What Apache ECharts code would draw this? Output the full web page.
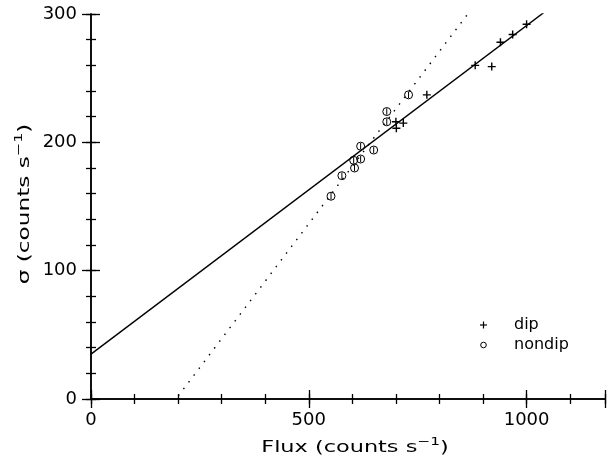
<!DOCTYPE html>
<html>
<head>
<meta charset="utf-8">
<script src="https://cdn.jsdelivr.net/npm/echarts@6/dist/echarts.min.js"></script>
<style>html,body{margin:0;padding:0;background:#fff}#c{width:608px;height:464px}</style>
</head>
<body>
<div id="c"></div>
<script>
// ---- data ----
var dipFlux   = [700, 701, 717, 771, 882, 920, 940, 968, 1000];
var dipSigma  = [216, 211, 215, 237, 260, 259, 278, 284, 292];
var nondipFlux  = [551, 576, 603, 605, 619, 619, 649, 679, 679, 729];
var nondipSigma = [158, 174, 186, 180, 187, 197, 194, 216, 224, 237];
// fitted lines: [intercept, slope]
var solidFit  = [35, 0.256];
var dottedFit = [-87.3, 0.4478];
var xTicks = [0, 500, 1000];
var yTicks = [0, 100, 200, 300];
var xRange = [0, 1180];
var yRange = [0, 300];
var xTitle = ['Flux (counts s', '−1', ')'];
var yTitle = ['σ (counts s', '−1', ')'];
var legendNames = ['dip', 'nondip'];

function pairs(xs, ys){ return xs.map(function(x,i){ return [x, ys[i]]; }); }
function fitLine(f){ return [[xRange[0], f[0] + f[1]*xRange[0]], [xRange[1], f[0] + f[1]*xRange[1]]]; }

var FONT = 'DejaVu Sans';
var lineCol = '#000';
function mkX(pos, interval, len, labels){
  return {type:'value', position:pos, min:xRange[0], max:xRange[1], interval:interval,
    axisLine:{show: len<7, lineStyle:{color:lineCol, width:1.5}},
    axisTick:{show:true, inside:true, length:len, lineStyle:{color:lineCol, width:1.3}},
    axisLabel:{show:labels, color:'#000', fontFamily:FONT, fontSize:18, margin:12,
      formatter:function(v){ return xTicks.indexOf(v)>=0 ? String(v) : ''; }},
    splitLine:{show:false}};
}
function mkY(pos, interval, len, labels){
  return {type:'value', position:pos, min:yRange[0], max:yRange[1], interval:interval,
    axisLine:{show: len<7, lineStyle:{color:lineCol, width:1.5}},
    axisTick:{show:true, inside:true, length:len, lineStyle:{color:lineCol, width:1.3}},
    axisLabel:{show:labels, color:'#000', fontFamily:FONT, fontSize:18, margin:14,
      formatter:function(v){ return yTicks.indexOf(v)>=0 ? String(v) : ''; }},
    splitLine:{show:false}};
}
var titleRich = {
  a:{fontFamily:FONT, fontSize:16, fill:'#000', color:'#000', lineHeight:22},
  s:{fontFamily:FONT, fontSize:11, fill:'#000', color:'#000', lineHeight:22, verticalAlign:'top', padding:[0,0,9,0]}
};
function titleText(t){ return '{a|' + t[0] + '}{s|' + t[1] + '}{a|' + t[2] + '}'; }

var chart = echarts.init(document.getElementById('c'), null, {renderer:'canvas'});
var plusPath = 'path://M0,5L10,5M5,0L5,10';
var circPath = 'path://M10,5A5,5,0,1,1,0,5A5,5,0,1,1,10,5ZM5,1L5,9';

chart.setOption({
  animation:false,
  backgroundColor:'#fff',
  grid:{left:91, top:14, width:515, height:385, containLabel:false},
  xAxis:[
    mkX('bottom', 100, 5, false),
    mkX('bottom', 500, 9, true),
    mkX('top', 100, 5, false),
    mkX('top', 500, 9, false)
  ],
  yAxis:[
    mkY('left', 20, 5, false),
    mkY('left', 100, 9, true),
    mkY('right', 20, 5, false),
    mkY('right', 100, 9, false)
  ],
  series:[
    {name:'solid', type:'line', xAxisIndex:0, yAxisIndex:0, data:fitLine(solidFit), showSymbol:false, clip:true,
     lineStyle:{color:'#000', width:1.4}, silent:true},
    {name:'dotted', type:'line', xAxisIndex:0, yAxisIndex:0, data:fitLine(dottedFit), showSymbol:false, clip:true,
     lineStyle:{color:'#000', width:1.4, type:[1.5,7]}, silent:true},
    {name:legendNames[0], type:'scatter', xAxisIndex:0, yAxisIndex:0, data:pairs(dipFlux, dipSigma),
     symbol:plusPath, symbolSize:8, itemStyle:{color:'none', borderColor:'#000', borderWidth:1.4, opacity:1}},
    {name:legendNames[1], type:'scatter', xAxisIndex:0, yAxisIndex:0, data:pairs(nondipFlux, nondipSigma),
     symbol:circPath, symbolSize:8, itemStyle:{color:'none', borderColor:'#000', borderWidth:1, opacity:1}}
  ],
  graphic:[
    {type:'text', x:355, y:448, scaleX:1.4, style:{text:titleText(xTitle), rich:titleRich, font:'16px "DejaVu Sans"', fill:'#000', align:'center', verticalAlign:'middle'}},
    {type:'text', x:25, y:204, rotation:Math.PI/2, scaleX:1.45, style:{text:titleText(yTitle), rich:titleRich, font:'16px "DejaVu Sans"', fill:'#000', align:'center', verticalAlign:'middle'}},
    {type:'line', shape:{x1:480, y1:325, x2:487, y2:325}, style:{stroke:'#000', lineWidth:1.2}},
    {type:'line', shape:{x1:483.5, y1:321.5, x2:483.5, y2:328.5}, style:{stroke:'#000', lineWidth:1.2}},
    {type:'circle', shape:{cx:483.5, cy:345, r:2.8}, style:{stroke:'#000', fill:'none', lineWidth:1}},
    {type:'text', x:514, y:325, style:{text:legendNames[0], font:'16px "DejaVu Sans"', fill:'#000', verticalAlign:'middle'}},
    {type:'text', x:514, y:345, style:{text:legendNames[1], font:'16px "DejaVu Sans"', fill:'#000', verticalAlign:'middle'}}
  ]
});
</script>
</body>
</html>
